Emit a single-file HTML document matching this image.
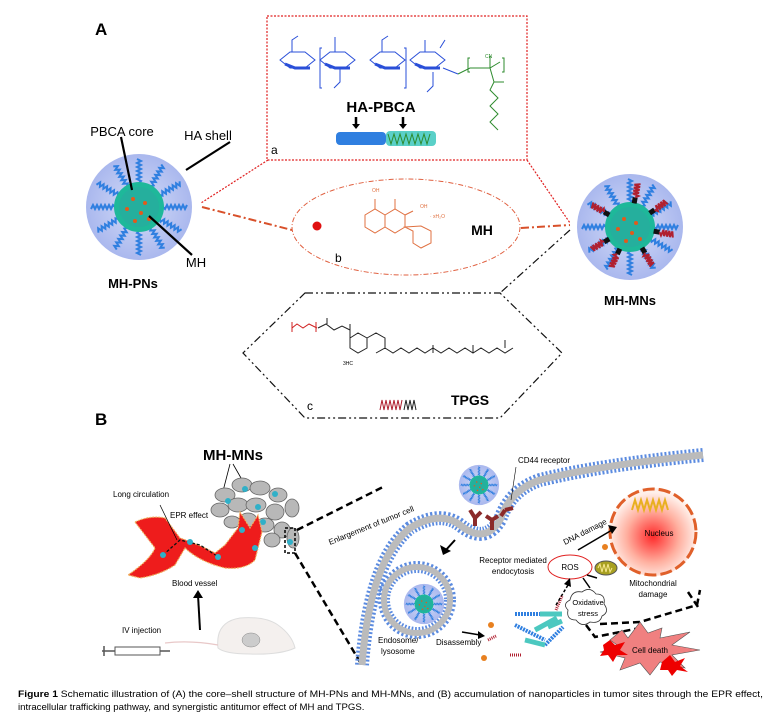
<!DOCTYPE html>
<html><head><meta charset="utf-8"><style>
html,body{margin:0;padding:0;background:#fff;}
svg{display:block;font-family:"Liberation Sans",Arial,sans-serif;}
</style></head><body>
<svg width="768" height="715" viewBox="0 0 768 715" xmlns="http://www.w3.org/2000/svg">
<defs>
<radialGradient id="sph" cx="50%" cy="50%" r="50%"><stop offset="0" stop-color="#d4dcf7"/><stop offset="1" stop-color="#aab8ee"/></radialGradient>
<radialGradient id="nuc" cx="50%" cy="55%" r="50%"><stop offset="0" stop-color="#ff2a2a"/><stop offset="0.6" stop-color="#ffb0a0"/><stop offset="1" stop-color="#fff0ea"/></radialGradient>
<g id="spoke"><path d="M0,-24 l2,-2 l-4,-2 l4,-2 l-4,-2 l4,-2 l-4,-2 l4,-2 l-4,-2 l4,-2 l-4,-2 l4,-2 l-4,-2" fill="none" stroke="#2f7fe0" stroke-width="2"/></g>
<g id="tspoke"><rect x="-2.5" y="-30" width="5" height="6" fill="#111"/><path d="M0,-30 l3,-2 l-6,-1.5 l6,-1.5 l-6,-1.5 l6,-1.5 l-6,-1.5 l6,-1.5 l-6,-1.5 l6,-1.5" fill="none" stroke="#b02030" stroke-width="2"/></g>
<g id="ptcl">
<circle r="53" fill="url(#sph)"/>
<use href="#spoke"/><use href="#spoke" transform="rotate(30)"/><use href="#spoke" transform="rotate(60)"/><use href="#spoke" transform="rotate(90)"/><use href="#spoke" transform="rotate(120)"/><use href="#spoke" transform="rotate(150)"/><use href="#spoke" transform="rotate(180)"/><use href="#spoke" transform="rotate(210)"/><use href="#spoke" transform="rotate(240)"/><use href="#spoke" transform="rotate(270)"/><use href="#spoke" transform="rotate(300)"/><use href="#spoke" transform="rotate(330)"/>
<circle r="25" fill="#1eb89a"/><circle r="20" fill="#2aa8a0" opacity=".6"/>
<circle cx="-6" cy="-8" r="2" fill="#e25a1c"/><circle cx="6" cy="-4" r="2" fill="#e25a1c"/><circle cx="-12" cy="2" r="2" fill="#e25a1c"/><circle cx="2" cy="6" r="2" fill="#e25a1c"/><circle cx="-4" cy="14" r="2" fill="#e25a1c"/><circle cx="10" cy="12" r="2" fill="#e25a1c"/>
</g>
</defs>

<!-- Part A -->
<text x="95" y="35" font-size="17" font-weight="bold">A</text>
<rect x="267" y="16" width="260" height="144" fill="none" stroke="#e02020" stroke-width="1.2" stroke-dasharray="2,1.5"/>
<g stroke="#2a4fd8" stroke-width="1" fill="none">
<path d="M280,60 l10,-8 l15,0 l10,8 l-10,8 l-15,0z M292,52 l0,-12 l6,-4 M320,60 l10,-8 l15,0 l10,8 l-10,8 l-15,0z M335,52 l0,-15 M370,60 l10,-8 l15,0 l10,8 l-10,8 l-15,0z M382,52 l0,-12 l6,-4 M410,60 l10,-8 l15,0 l10,8 l-10,8 l-15,0z M425,52 l0,-12 M440,48 l5,-8 M340,68 l0,14 l-6,6 M433,72 l0,14 l-6,6 M443,68 l15,6"/>
<path d="M322,48 l-2,0 l0,40 l2,0 M404,48 l2,0 l0,40 l-2,0"/>
</g>
<path d="M285,64 l10,4 l15,0 M325,64 l10,4 l15,0 M375,64 l10,4 l15,0 M415,64 l10,4 l15,0" stroke="#2a4fd8" stroke-width="3" fill="none"/>
<g stroke="#2e8b2e" stroke-width="1" fill="none"><path d="M470,72 l-2,0 l0,-14 l2,0 M458,74 l12,-6 l20,0 l10,-6 M490,68 l0,-12 M502,58 l2,0 l0,14 l-2,0 M490,68 l4,14 l10,0 M494,82 l-4,8 l8,8 l-8,8 l8,8 l-8,8 l8,8"/></g>
<text x="485" y="58" font-size="5" fill="#2e8b2e">CN</text>
<text x="381" y="112" font-size="15" font-weight="bold" text-anchor="middle">HA-PBCA</text>
<path d="M356,117 v9 M403,117 v9" stroke="#000" stroke-width="2.5"/>
<path d="M352,124 h8 l-4,5z M399,124 h8 l-4,5z" fill="#000"/>
<rect x="336" y="132" width="50" height="13" rx="4" fill="#2f7fe0"/>
<rect x="386" y="131" width="50" height="15" rx="4" fill="#5ad0c8"/>
<path d="M388,134 l3,10 l3,-10 l3,10 l3,-10 l3,10 l3,-10 l3,10 l3,-10 l3,10 l3,-10 l3,10 l3,-10 l3,10 l3,-10" stroke="#2e8b2e" fill="none"/>
<text x="271" y="154" font-size="12">a</text>

<path d="M268,160 L201,203 M527,160 L570,223" stroke="#e02020" stroke-width="1.2" stroke-dasharray="2,1.5"/>
<path d="M202,207 L292,230 M521,228 L570,225" stroke="#d8502a" stroke-width="2" stroke-dasharray="8,3,2,3"/>
<path d="M570,230 L500,293" stroke="#111" stroke-width="1.2" stroke-dasharray="8,3,2,3,2,3"/>

<use href="#ptcl" x="139" y="207"/>
<path d="M121,137 L132,190 M230,142 L186,170 M149,216 L192,255" stroke="#000" stroke-width="2.2"/>
<text x="122" y="136" font-size="13" text-anchor="middle">PBCA core</text>
<text x="208" y="140" font-size="13" text-anchor="middle">HA shell</text>
<text x="196" y="267" font-size="13" text-anchor="middle">MH</text>
<text x="133" y="288" font-size="13" font-weight="bold" text-anchor="middle">MH-PNs</text>

<ellipse cx="406" cy="227" rx="114" ry="48" fill="none" stroke="#e06040" stroke-width="1" stroke-dasharray="5,2,1,2"/>
<circle cx="317" cy="226" r="4.5" fill="#e01010"/>
<g stroke="#e07040" stroke-width="1" fill="none">
<path d="M365,215 l10,-6 l10,6 l0,12 l-10,6 l-10,-6z M385,215 l10,-6 l10,6 l0,12 l-10,6 l-10,-6z M405,227 l8,4 l0,12 l8,5 l10,-5 l0,-12 l-10,-5z M375,209 v-10 M395,209 v-10 M405,215 l8,-4"/>
</g>
<text x="372" y="192" font-size="5" fill="#e07040">OH</text>
<text x="420" y="208" font-size="5" fill="#e07040">OH</text>
<text x="430" y="218" font-size="5" fill="#e07040">· xH₂O</text>
<text x="482" y="235" font-size="14" font-weight="bold" text-anchor="middle">MH</text>
<text x="335" y="262" font-size="12">b</text>

<use href="#ptcl" x="630" y="227"/>
<g transform="translate(630,227)"><use href="#tspoke" transform="rotate(10)"/><use href="#tspoke" transform="rotate(55)"/><use href="#tspoke" transform="rotate(100)"/><use href="#tspoke" transform="rotate(150)"/><use href="#tspoke" transform="rotate(205)"/><use href="#tspoke" transform="rotate(240)"/><use href="#tspoke" transform="rotate(300)"/></g>
<text x="630" y="305" font-size="13" font-weight="bold" text-anchor="middle">MH-MNs</text>

<path d="M305,293 L500,293 L562,353 L500,418 L305,418 L243,353 Z" fill="none" stroke="#111" stroke-width="1.2" stroke-dasharray="8,3,2,3,2,3"/>
<g stroke="#d02020" stroke-width="1" fill="none"><path d="M292,328 l5,-4 l6,4 l6,-4 l8,4 M292,322 v10 M316,322 v10"/></g>
<g stroke="#222" stroke-width="1" fill="none"><path d="M318,328 l8,-4 l8,6 l8,-4 l8,4 M327,324 v-6 M350,330 v-6 M350,330 l0,8 M350,338 l8,-5 l9,5 l0,10 l-9,5 l-8,-5z M367,338 l9,-5 l9,5 l0,10 l-9,5 M385,348 l8,5 l8,-5 l8,5 l8,-5 l8,5 l8,-5 l8,5 l8,-5 l8,5 l8,-5 l8,5 l8,-5 l8,5 l8,-5 l8,5 l8,-5 M433,353 v-8 M473,353 v-8 M505,348 v-8"/></g>
<text x="343" y="365" font-size="5">3HC</text>
<text x="307" y="410" font-size="12">c</text>
<path d="M380,410 l2,-10 l2,10 l2,-10 l2,10 l2,-10 l2,10 l2,-10 l2,10 l2,-10 l2,10 l2,-10" stroke="#b02030" fill="none"/>
<path d="M404,410 l2,-10 l2,10 l2,-10 l2,10 l2,-10 l2,10" stroke="#222" fill="none"/>
<text x="470" y="405" font-size="14" font-weight="bold" text-anchor="middle">TPGS</text>

<!-- Part B -->
<text x="95" y="425" font-size="17" font-weight="bold">B</text>
<text x="233" y="460" font-size="15" font-weight="bold" text-anchor="middle">MH-MNs</text>
<path d="M230,464 L222,495 M233,464 L245,485" stroke="#000" stroke-width="0.8"/>
<g fill="#b8b8b8" stroke="#666" stroke-width="0.8">
<ellipse cx="225" cy="495" rx="10" ry="7"/><ellipse cx="242" cy="485" rx="10" ry="7"/><ellipse cx="260" cy="488" rx="10" ry="7"/><ellipse cx="278" cy="495" rx="9" ry="7"/><ellipse cx="220" cy="510" rx="9" ry="7"/><ellipse cx="238" cy="505" rx="10" ry="7"/><ellipse cx="256" cy="505" rx="10" ry="7"/><ellipse cx="275" cy="512" rx="9" ry="8"/><ellipse cx="292" cy="508" rx="7" ry="9"/><ellipse cx="248" cy="520" rx="9" ry="7"/><ellipse cx="265" cy="525" rx="9" ry="7"/><ellipse cx="282" cy="530" rx="8" ry="8"/><ellipse cx="293" cy="538" rx="6" ry="10"/><ellipse cx="272" cy="540" rx="8" ry="7"/><ellipse cx="232" cy="522" rx="8" ry="6"/>
</g>
<g fill="#30b0c8"><circle cx="228" cy="501" r="3"/><circle cx="245" cy="489" r="3"/><circle cx="258" cy="507" r="3"/><circle cx="275" cy="494" r="3"/><circle cx="263" cy="522" r="3"/><circle cx="290" cy="542" r="3"/></g>
<path d="M135,522 Q150,515 165,518 L180,538 Q200,545 215,553 L225,545 L238,528 L240,512 L250,528 L258,515 L262,532 L255,560 Q245,570 225,568 Q200,562 185,548 L175,565 Q160,575 140,578 L128,575 Q150,560 155,548 Q145,535 135,522Z" fill="#ee1c1c" stroke="#f0b060" stroke-width="1.2" stroke-dasharray="2,1"/>
<path d="M163,555 L180,540 L200,545 L220,558" stroke="#111" stroke-width="1.3" stroke-dasharray="3,2" fill="none"/>
<g fill="#30b0c8"><circle cx="163" cy="555" r="3"/><circle cx="190" cy="542" r="3"/><circle cx="218" cy="557" r="3"/><circle cx="242" cy="530" r="3"/><circle cx="255" cy="548" r="3"/></g>
<path d="M160,505 L177,540" stroke="#000" stroke-width="0.7"/>
<text x="113" y="497" font-size="8">Long circulation</text>
<text x="170" y="518" font-size="8">EPR effect</text>
<text x="172" y="586" font-size="8">Blood vessel</text>
<path d="M200,630 L198,595" stroke="#000" stroke-width="2"/><path d="M193,598 L198,590 L203,598z" fill="#000"/>
<text x="122" y="633" font-size="8">IV injection</text>
<path d="M218,648 Q215,622 240,618 Q265,616 278,625 Q292,635 295,648 Q280,655 250,654 Q225,654 218,648Z" fill="#f4f0ee" stroke="#ddd"/>
<ellipse cx="251" cy="640" rx="9" ry="7" fill="#ccc" stroke="#888" stroke-width=".5"/>
<path d="M165,643 Q190,640 218,645" stroke="#e8c8c8" fill="none" stroke-width="1.2"/>
<rect x="115" y="647" width="45" height="8" fill="#fff" stroke="#555"/><path d="M102,651 h13 M104,646 v10 M160,651 h10" stroke="#555" stroke-width="1.5"/>
<rect x="285" y="528" width="10" height="25" fill="none" stroke="#000" stroke-width="1.5" stroke-dasharray="3,2"/>
<path d="M297,530 L385,486 M295,553 L360,662" stroke="#000" stroke-width="2.5" stroke-dasharray="7,4"/>
<text x="330" y="545" font-size="8" transform="rotate(-22 330 545)">Enlargement of tumor cell</text>

<g fill="none">
<path d="M703,455 Q600,465 540,480 Q510,490 500,520 Q485,545 460,525 Q440,510 410,528 Q370,560 362,665" stroke="#5b8be0" stroke-width="14" stroke-dasharray="2,2"/>
<path d="M703,455 Q600,465 540,480 Q510,490 500,520 Q485,545 460,525 Q440,510 410,528 Q370,560 362,665" stroke="#bbb" stroke-width="7"/>
</g>
<circle cx="417" cy="600" r="33" fill="none" stroke="#5b8be0" stroke-width="12" stroke-dasharray="2,2"/>
<circle cx="417" cy="600" r="33" fill="none" stroke="#bbb" stroke-width="6"/>
<g transform="translate(424,604) scale(0.38)"><use href="#ptcl"/></g>
<g transform="translate(479,485) scale(0.38)"><use href="#ptcl"/></g>
<g stroke="#8b2a2a" stroke-width="4" fill="none"><path d="M470,510 l5,8 l6,-6 M475,518 l0,8 M492,520 l0,10 M486,516 l6,4 l6,-4 M505,510 l8,-2 M505,510 l-4,6"/></g>
<text x="518" y="463" font-size="8">CD44 receptor</text>
<path d="M516,467 L511,500" stroke="#000" stroke-width="0.6"/>
<path d="M455,540 L445,551" stroke="#000" stroke-width="2"/><path d="M440,545 L443,555 L451,551z" fill="#000"/>
<text x="513" y="563" font-size="8" text-anchor="middle">Receptor mediated</text>
<text x="513" y="574" font-size="8" text-anchor="middle">endocytosis</text>
<text x="378" y="643" font-size="8">Endosome/</text>
<text x="381" y="654" font-size="8">lysosome</text>
<text x="436" y="645" font-size="8">Disassembly</text>
<path d="M462,632 L480,635" stroke="#000" stroke-width="1.5"/><path d="M478,631 L485,636 L478,639z" fill="#000"/>
<g fill="none" stroke-width="2">
<path d="M515,614 h28" stroke="#2f7fe0" stroke-dasharray="2,1" stroke-width="4"/>
<path d="M540,614 h22" stroke="#4cc8c0" stroke-width="5"/>
<path d="M515,625 l30,15" stroke="#2f7fe0" stroke-width="4" stroke-dasharray="2,1"/>
<path d="M535,630 l22,-12" stroke="#4cc8c0" stroke-width="5"/>
<path d="M545,645 l18,-18" stroke="#2f7fe0" stroke-width="4" stroke-dasharray="2,1"/>
<path d="M525,640 l20,5" stroke="#4cc8c0" stroke-width="5"/>
<path d="M548,627 l14,-6" stroke="#4cc8c0" stroke-width="5"/>
<path d="M556,610 l6,-14" stroke="#b02030" stroke-width="3" stroke-dasharray="1,1"/>
<path d="M488,640 l8,-4" stroke="#b02030" stroke-width="3" stroke-dasharray="1,1"/>
<path d="M510,655 l12,0" stroke="#b02030" stroke-width="3" stroke-dasharray="1,1"/>
</g>
<g fill="#e88020"><circle cx="491" cy="625" r="3"/><circle cx="484" cy="658" r="3"/><circle cx="605" cy="547" r="3"/><circle cx="614" cy="543" r="3"/><circle cx="664" cy="533" r="3"/><circle cx="645" cy="550" r="3"/><circle cx="668" cy="546" r="3"/></g>
<circle cx="653" cy="532" r="44" fill="url(#nuc)"/>
<circle cx="653" cy="532" r="43" fill="none" stroke="#e0602a" stroke-width="3" stroke-dasharray="12,4"/>
<path d="M632,510 l3,-10 l3,10 l3,-10 l3,10 l3,-10 l3,10 l3,-10 l3,10 l3,-10 l3,10 l3,-10 l3,10" stroke="#e8b020" stroke-width="2" fill="none"/>
<text x="659" y="536" font-size="8" text-anchor="middle">Nucleus</text>
<path d="M578,550 L612,530" stroke="#000" stroke-width="1.5"/><path d="M608,525 L617,527 L612,534z" fill="#000"/>
<text x="565" y="545" font-size="8" transform="rotate(-27 565 545)">DNA damage</text>
<ellipse cx="570" cy="567" rx="22" ry="12" fill="#fff" stroke="#e02020"/>
<text x="570" y="570" font-size="8" text-anchor="middle">ROS</text>
<ellipse cx="606" cy="568" rx="11" ry="7" fill="#a8a020" stroke="#555"/>
<path d="M598,568 l2,-4 l2,8 l2,-8 l2,8 l2,-8 l2,8 l2,-4" stroke="#f8e890" fill="none"/>
<path d="M587,575 L597,578 M583,578 L590,588" stroke="#000" stroke-width="1.5"/>
<text x="653" y="586" font-size="8" text-anchor="middle">Mitochondrial</text>
<text x="653" y="597" font-size="8" text-anchor="middle">damage</text>
<path d="M556,605 L568,585" stroke="#000" stroke-width="1.5" stroke-dasharray="3,2"/><path d="M564,584 L570,578 L571,587z" fill="#000"/>
<path d="M570,600 q2,-10 12,-8 q8,-6 14,2 q10,0 8,10 q6,8 -2,12 q-2,8 -12,6 q-8,6 -14,-2 q-10,0 -8,-10 q-6,-6 2,-10z" fill="#fff" stroke="#333" stroke-width="0.8"/>
<text x="588" y="605" font-size="7.5" text-anchor="middle">Oxidative</text>
<text x="588" y="616" font-size="7.5" text-anchor="middle">stress</text>
<path d="M586,625 L595,637 L640,628 L640,635 M600,624 L640,622 L697,605 L700,590 M688,592 L698,607" stroke="#000" stroke-width="2.5" stroke-dasharray="7,4" fill="none"/>
<polygon points="610,640 622,630 628,638 640,622 648,633 662,628 660,638 690,632 672,645 700,650 672,655 685,668 660,662 650,675 640,663 620,670 625,658 600,652 620,647" fill="#f08080" stroke="#555" stroke-width="0.6"/>
<polygon points="603,645 610,640 615,645 625,642 620,650 628,655 617,655 613,662 608,655 600,656 604,650" fill="#ee0000"/>
<polygon points="662,662 670,655 675,662 685,658 680,666 688,672 677,670 672,676 668,670 660,670" fill="#ee0000"/>
<text x="650" y="653" font-size="8" text-anchor="middle">Cell death</text>

<text x="18" y="697" font-size="9.6" textLength="745" lengthAdjust="spacingAndGlyphs"><tspan font-weight="bold">Figure 1</tspan> Schematic illustration of (A) the core–shell structure of MH-PNs and MH-MNs, and (B) accumulation of nanoparticles in tumor sites through the EPR effect,</text>
<text x="18" y="710" font-size="9.6">intracellular trafficking pathway, and synergistic antitumor effect of MH and TPGS.</text>
</svg>
</body></html>
